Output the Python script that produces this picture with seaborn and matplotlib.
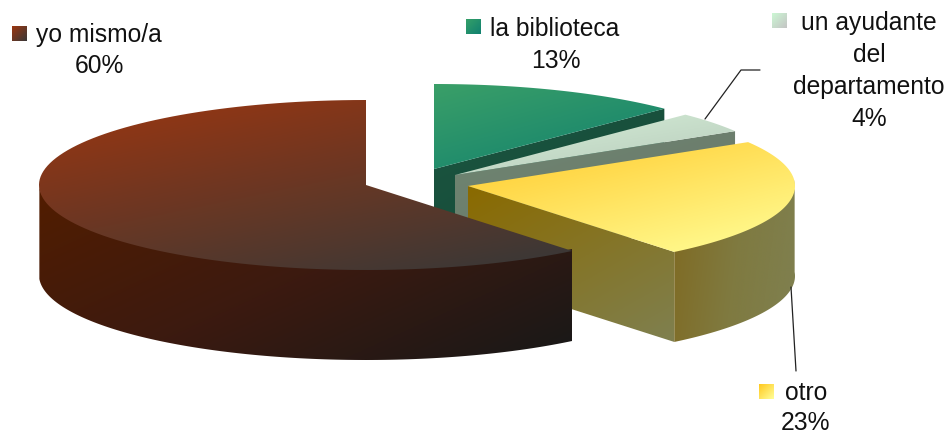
import numpy as np
import matplotlib
matplotlib.use('Agg')
import matplotlib.pyplot as plt
from matplotlib.patches import Polygon
from matplotlib.colors import LinearSegmentedColormap
import seaborn as sns

# Chart values, clockwise from 12 o'clock
categories = ['la biblioteca', 'un ayudante\ndel\ndepartamento', 'otro', 'yo mismo/a']
shares = [13, 4, 23, 60]

# Exploded apex of each slice in pixels
apexes = [(434, 170), (455, 176), (468, 187), (366, 186)]
RX, RY, DEPTH = 327, 85, 90

sns.set_theme(style='white')
plt.rcParams['font.family'] = ['Liberation Sans', 'DejaVu Sans']

fig = plt.figure(figsize=(9.52, 4.35), dpi=100)
ax = fig.add_axes([0, 0, 1, 1])


def view_angle(theta):
    # small perspective correction of the true pie angle
    return theta - np.radians(3.2) * np.sqrt(np.abs(np.sin(theta / 2)))


def arc(apex, t0, t1, n=120):
    t = view_angle(np.linspace(t0, t1, n))
    return np.column_stack([apex[0] + RX * np.sin(t), apex[1] - RY * np.cos(t)])


def gradient(points, colors, zorder, angle=(0.6, 0.8)):
    # fill a polygon with a diagonal gradient, clipped to its outline
    points = np.asarray(points)
    x0, y0 = points.min(axis=0)
    x1, y1 = points.max(axis=0)
    u, v = np.meshgrid(np.linspace(0, 1, 200), np.linspace(0, 1, 200))
    grid = (angle[0] * u + angle[1] * v) / (angle[0] + angle[1])
    cmap = LinearSegmentedColormap.from_list('g', sns.blend_palette(colors, 32))
    im = ax.imshow(grid, cmap=cmap, extent=(x0, x1, y1, y0), aspect='auto',
                   vmin=0, vmax=1, zorder=zorder, interpolation='bilinear')
    outline = Polygon(points, closed=True, transform=ax.transData)
    im.set_clip_path(outline)


def drop(points):
    return np.asarray(points) + np.array([0, DEPTH])


def cut_face(apex, t):
    edge = np.vstack([apex, arc(apex, t, t, 1)])
    return np.vstack([edge, drop(edge)[::-1]])


def wall(apex, t0, t1):
    # starts a little above the rim so no seam shows under the top face
    top = arc(apex, t0, t1)
    return np.vstack([top - np.array([0, 2]), drop(top)[::-1]])


edges = np.radians(np.cumsum([0] + shares) * 3.6)

top_colors = [['#3a9f68', '#10806f'], ['#d6f0d8', '#b6c8ba'],
              ['#ffc92a', '#ffff99'], ['#9c3610', '#363838']]
swatch_colors = [['#35a068', '#108070'], ['#ccf8d4', '#c4c4c4'],
                 ['#ffc81e', '#ffff99'], ['#9c3610', '#383838']]

# far slices first, the near ones paint over them
gradient(cut_face(apexes[0], edges[1]), ['#1a5540', '#174a38'], 1)
gradient(np.vstack([apexes[0], arc(apexes[0], edges[0], edges[1])]), top_colors[0], 2)

gradient(cut_face(apexes[1], edges[2]), ['#6f8672', '#697568'], 3)
gradient(np.vstack([apexes[1], arc(apexes[1], edges[1], edges[2])]), top_colors[1], 4)

gradient(cut_face(apexes[2], edges[3]), ['#8a6a00', '#7f8050'], 6)
gradient(wall(apexes[2], np.pi / 2, edges[3]), ['#806a22', '#7f7a40', '#7f8050'], 6, angle=(0.85, 0.15))
gradient(np.vstack([apexes[2], arc(apexes[2], edges[2], edges[3])]), top_colors[2], 7)

gradient(wall(apexes[3], edges[3], 1.5 * np.pi), ['#521d00', '#3c1a10', '#181818'], 8, angle=(0.7, 0.5))
gradient(np.vstack([apexes[3], arc(apexes[3], edges[3], edges[4])]), top_colors[3], 9, angle=(0.55, 0.85))

# Leader lines
ax.plot([705, 741, 760], [120, 71, 71], color='#222222', lw=0.9, zorder=10)
ax.plot([791, 796], [288, 372], color='#222222', lw=0.9, zorder=10)

# Legend swatches next to the labels
swatches = [(466, 20), (772, 14), (759, 385), (12, 27)]
for (sx, sy), cols in zip(swatches, swatch_colors):
    gradient([(sx, sy), (sx + 15, sy), (sx + 15, sy + 15), (sx, sy + 15)], cols, 11, angle=(1, 1))

ax.set_xlim(0, 952)
ax.set_ylim(435, 0)
ax.axis('off')

text_color = '#111111'
label_kw = dict(fontsize=17.7, color=text_color, ha='center', va='center', zorder=12)
ax.text(554.5, 29, categories[0], **label_kw)
ax.text(556, 61, f'{shares[0]}%', **label_kw)
ax.text(869, 23, 'un ayudante', **label_kw)
ax.text(869, 55, 'del', **label_kw)
ax.text(869, 87, 'departamento', **label_kw)
ax.text(869, 119, f'{shares[1]}%', **label_kw)
ax.text(806, 393, categories[2], **label_kw)
ax.text(806, 423, f'{shares[2]}%', **label_kw)
ax.text(98.5, 35, categories[3], **label_kw)
ax.text(99, 66, f'{shares[3]}%', **label_kw)

fig.savefig('out.png', dpi=100, facecolor='white')
